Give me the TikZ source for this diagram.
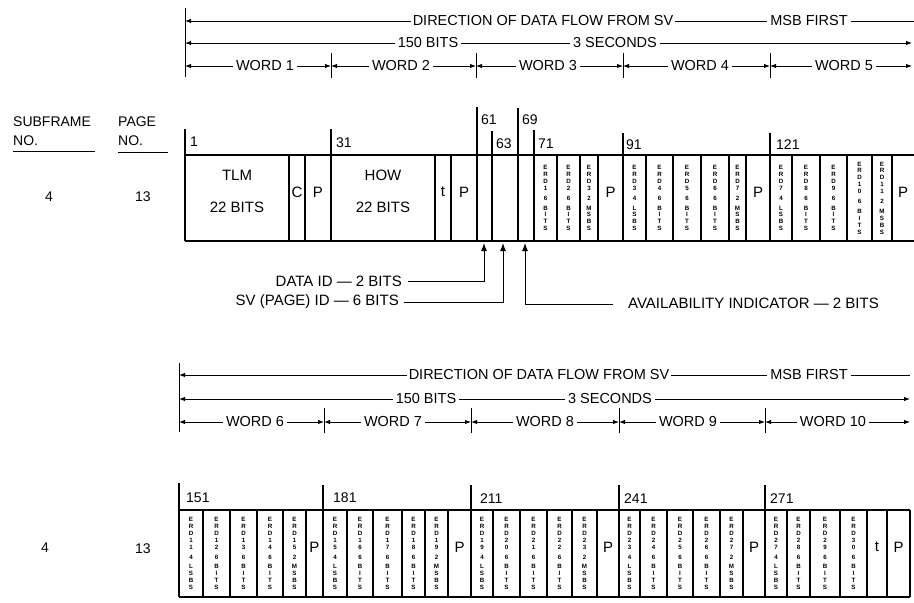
\documentclass[tikz,border=0pt]{standalone}
\usepackage{fontspec}
\setmainfont{Liberation Sans}
\usetikzlibrary{arrows.meta}

\def\stkA#1{\ifx#1\relax\else\hbox to 6pt{\hss#1\hss}\expandafter\stkA\fi}
\newcommand\stkchars[1]{\edef\tmpstk{#1}\expandafter\stkA\tmpstk\relax}
\newcommand\vst[3]{\vbox{\fontsize{6.2}{6.9}\selectfont\bfseries\baselineskip=6.9pt\stkchars{#1}\vskip3pt\stkchars{#2}\vskip3pt\stkchars{#3}}}

\tikzset{
  hdr/.style={font=\fontsize{14.5}{15}\selectfont, inner sep=0pt},
  lbl/.style={font=\fontsize{15}{15}\selectfont, inner sep=0pt},
  num/.style={font=\fontsize{14}{14}\selectfont, inner sep=0pt, anchor=west},
  dim/.style={line width=1pt},
  frm/.style={line width=1.4pt},
  vcell/.style={inner sep=0pt},
}

\begin{document}
\begin{tikzpicture}[x=1pt,y=-1pt]
\useasboundingbox (0,0) rectangle (914,603);

% ---------------- upper header ----------------
\draw[dim] (185,8) -- (185,77);
\node[hdr] (ud) at (543,21) {DIRECTION OF DATA FLOW FROM SV};
\node[hdr] (um) at (809,21) {MSB FIRST};
\coordinate (ul1) at (185,21); \coordinate (ur1) at (914,21);
\draw[dim,{Latex[length=6pt,width=4.5pt]}-] (ul1) -- ([xshift=-2pt]ud.west);
\draw[dim] ([xshift=2pt]ud.east) -- ([xshift=-3pt]um.west);
\draw[dim] ([xshift=3pt]um.east) -- (ur1);

\node[hdr] (ub) at (428,43) {150 BITS};
\node[hdr] (us) at (615,43) {3 SECONDS};
\coordinate (ul2) at (185,43); \coordinate (ur2) at (912,43);
\draw[dim,{Latex[length=6pt,width=4.5pt]}-] (ul2) -- ([xshift=-3pt]ub.west);
\draw[dim] ([xshift=3pt]ub.east) -- ([xshift=-3pt]us.west);
\draw[dim,-{Latex[length=6pt,width=4.5pt]}] ([xshift=3pt]us.east) -- (ur2);

\foreach \b in {331,476,623,770} \draw[dim] (\b,53) -- (\b,78);
\foreach \i/\a/\c/\e in {1/185/265/331, 2/331/401/476, 3/476/548/623, 4/623/700/770, 5/770/844/912} {
  \node[hdr] (uw\i) at (\c,66) {WORD \i};
  \coordinate (uwa\i) at (\a,66); \coordinate (uwb\i) at (\e,66);
  \draw[dim,{Latex[length=6pt,width=4.5pt]}-] (uwa\i) -- ([xshift=-3pt]uw\i.west);
  \draw[dim,-{Latex[length=6pt,width=4.5pt]}] ([xshift=3pt]uw\i.east) -- (uwb\i);
}

% ---------------- left labels ----------------
\node[num] (sf) at (13,122) {SUBFRAME};
\node[num] (sfn) at (13,141) {NO.};
\draw[line width=1pt] (13,151) -- (95,151);
\node[num] (pg) at (118,122) {PAGE};
\node[num] (pgn) at (118,141) {NO.};
\draw[line width=1pt] (118,152) -- (168,152);
\node[num,anchor=center] (sf1) at (49,197) {4};
\node[num,anchor=center] (pg1) at (143,197) {13};
\node[num,anchor=center] (sf2) at (45,548) {4};
\node[num,anchor=center] (pg2) at (143,549) {13};

% ---------------- upper frame ----------------
\draw[frm] (185,155) -- (914,155);
\draw[frm] (185,241) -- (914,241);
\foreach \x/\t in {185/129,331/129,477/107,492/131,518/108,534/130,623/133,770/133}
  \draw[frm] (\x,\t) -- (\x,241);
\foreach \x in {289,305,435,451,557,580,598,646,673,701,729,746,792,820,847,872,892}
  \draw[frm] (\x,155) -- (\x,241);
\node[num] (n1) at (190,142) {1};
\node[num] (n31) at (336,143) {31};
\node[num] (n61) at (481,120) {61};
\node[num] (n63) at (496,144) {63};
\node[num] (n69) at (522,120) {69};
\node[num] (n71) at (538,144) {71};
\node[num] (n91) at (626,145) {91};
\node[num] (n121) at (776,145) {121};

\node[lbl] (tlm) at (237,175) {TLM};
\node[lbl] (tlmb) at (237,207) {22 BITS};
\node[lbl] (cc) at (297,192) {C};
\node[lbl] (p1) at (318,192) {P};
\node[lbl] (how) at (383,175) {HOW};
\node[lbl] (howb) at (383,207) {22 BITS};
\node[lbl] (t2) at (443,192) {t};
\node[lbl] (p2) at (464,192) {P};
\node[lbl] (p3) at (610.5,192) {P};
\node[lbl] (p4) at (758,192) {P};
\node[lbl] (p5) at (903,192) {P};

\foreach \x/\a/\b/\c [count=\k] in {545.5/ERD1/6/BITS, 568.5/ERD2/6/BITS, 589/ERD3/2/MSBS,
  634.5/ERD3/4/LSBS, 659.5/ERD4/6/BITS, 687/ERD5/6/BITS, 715/ERD6/6/BITS, 737.5/ERD7/2/MSBS,
  781/ERD7/4/LSBS, 806/ERD8/6/BITS, 833.5/ERD9/6/BITS, 859.5/ERD10/6/BITS, 882/ERD11/2/MSBS}
  \node[vcell] (ue\k) at (\x,198) {\vst{\a}{\b}{\c}};

% ---------------- pointer labels ----------------
\node[lbl,anchor=east] (did) at (402,281) {DATA ID — 2 BITS};
\node[lbl,anchor=east] (svid) at (399,302) {SV (PAGE) ID — 6 BITS};
\node[lbl,anchor=west] (ai) at (628,303) {AVAILABILITY INDICATOR — 2 BITS};
\coordinate (didT) at (484,243);
\coordinate (svT) at (503,243);
\coordinate (aiT) at (525,243);
\draw[dim,-{Latex[length=8pt,width=6pt]}] ([xshift=6pt]did.east) -| (didT);
\draw[dim,-{Latex[length=8pt,width=6pt]}] ([xshift=5pt]svid.east) -| (svT);
\draw[dim,-{Latex[length=8pt,width=6pt]}] ([xshift=-15pt,yshift=-1pt]ai.west) -| (aiT);

% ---------------- lower header ----------------
\draw[dim] (179,363) -- (179,432);
\node[hdr] (ld) at (539,375) {DIRECTION OF DATA FLOW FROM SV};
\node[hdr] (lm) at (809,375) {MSB FIRST};
\coordinate (ll1) at (179,375); \coordinate (lr1) at (910,375);
\draw[dim,{Latex[length=6pt,width=4.5pt]}-] (ll1) -- ([xshift=-2pt]ld.west);
\draw[dim] ([xshift=2pt]ld.east) -- ([xshift=-3pt]lm.west);
\draw[dim] ([xshift=3pt]lm.east) -- (lr1);

\node[hdr] (lb) at (426,399) {150 BITS};
\node[hdr] (ls) at (610,399) {3 SECONDS};
\coordinate (ll2) at (179,399); \coordinate (lr2) at (910,399);
\draw[dim,{Latex[length=6pt,width=4.5pt]}-] (ll2) -- ([xshift=-3pt]lb.west);
\draw[dim] ([xshift=3pt]lb.east) -- ([xshift=-3pt]ls.west);
\draw[dim,-{Latex[length=6pt,width=4.5pt]}] ([xshift=3pt]ls.east) -- (lr2);

\foreach \b in {324,471,619,765} \draw[dim] (\b,408) -- (\b,433);
\foreach \i/\a/\c/\e in {6/179/255/324, 7/324/393/471, 8/471/545/619, 9/619/688/765, 10/765/833/910} {
  \node[hdr] (lw\i) at (\c,422) {WORD \i};
  \coordinate (lwa\i) at (\a,422); \coordinate (lwb\i) at (\e,422);
  \draw[dim,{Latex[length=6pt,width=4.5pt]}-] (lwa\i) -- ([xshift=-3pt]lw\i.west);
  \draw[dim,-{Latex[length=6pt,width=4.5pt]}] ([xshift=3pt]lw\i.east) -- (lwb\i);
}

% ---------------- lower frame ----------------
\draw[frm] (179,510) -- (910,510);
\draw[frm] (179,597) -- (910,597);
\foreach \x/\t in {179/483,323/485,471/485,619/485,765/485}
  \draw[frm] (\x,\t) -- (\x,597);
\foreach \x in {203,230,257,283,306,347,373,402,425,448,493,520,547,572,597,640,667,693,720,743,787,810,840,867,887,910}
  \draw[frm] (\x,510) -- (\x,597);
\node[num] (n151) at (186,498) {151};
\node[num] (n181) at (333,498) {181};
\node[num] (n211) at (480,499) {211};
\node[num] (n241) at (624,499) {241};
\node[num] (n271) at (770,499) {271};

\foreach \x/\a/\b/\c [count=\k] in {191/ERD11/4/LSBS, 216.5/ERD12/6/BITS, 243.5/ERD13/6/BITS, 270/ERD14/6/BITS, 294.5/ERD15/2/MSBS,
  335/ERD15/4/LSBS, 360/ERD16/6/BITS, 387.5/ERD17/6/BITS, 413.5/ERD18/6/BITS, 436.5/ERD19/2/MSBS,
  482/ERD19/4/LSBS, 506.5/ERD20/6/BITS, 533.5/ERD21/6/BITS, 559.5/ERD22/6/BITS, 584.5/ERD23/2/MSBS,
  629.5/ERD23/4/LSBS, 653.5/ERD24/6/BITS, 680/ERD25/6/BITS, 706.5/ERD26/6/BITS, 731.5/ERD27/2/MSBS,
  776/ERD27/4/LSBS, 798.5/ERD28/6/BITS, 825/ERD29/6/BITS, 853.5/ERD30/6/BITS}
  \node[vcell] (le\k) at (\x,553.5) {\vst{\a}{\b}{\c}};

\node[lbl] (lp6) at (314.5,547) {P};
\node[lbl] (lp7) at (459.5,547) {P};
\node[lbl] (lp8) at (608,547) {P};
\node[lbl] (lp9) at (754,547) {P};
\node[lbl] (lt10) at (877,547) {t};
\node[lbl] (lp10) at (898.5,547) {P};
\end{tikzpicture}
\end{document}
